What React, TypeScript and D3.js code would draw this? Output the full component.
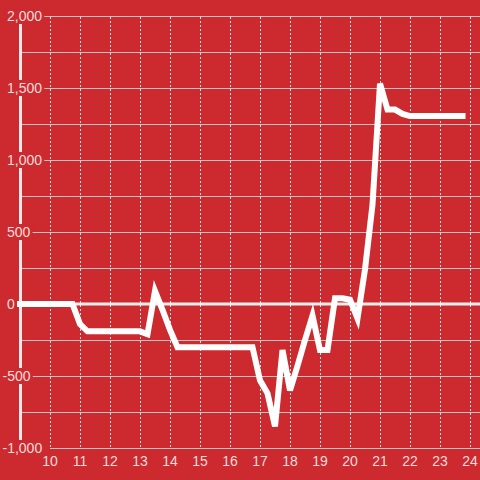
import React, { useEffect, useRef } from "react";
import * as d3 from "d3";

const hours = [
  9, 9.25, 9.5, 9.75, 10, 10.25, 10.5, 10.75, 11, 11.25, 11.5, 11.75, 12, 12.25, 12.5, 12.75,
  13, 13.25, 13.5, 13.75, 14, 14.25, 14.5, 14.75, 15, 15.25, 15.5, 15.75, 16, 16.25, 16.5, 16.75,
  17, 17.25, 17.5, 17.75, 18, 18.25, 18.5, 18.75, 19, 19.25, 19.5, 19.75, 20, 20.25, 20.5, 20.75,
  21, 21.25, 21.5, 21.75, 22, 22.25, 22.5, 22.75, 23, 23.25, 23.5, 23.75,
];
const values = [
  0, 0, 0, 0, 0, 0, 0, 0, -140, -190, -190, -190, -190, -190, -190, -190,
  -190, -210, 90, -40, -180, -300, -300, -300, -300, -300, -300, -300, -300, -300, -300, -300,
  -530, -620, -850, -320, -600, -430, -250, -80, -320, -320, 40, 40, 30, -100, 240, 690,
  1530, 1350, 1350, 1320, 1305, 1305, 1305, 1305, 1305, 1305, 1305, 1305,
];
const xTicks = [10, 11, 12, 13, 14, 15, 16, 17, 18, 19, 20, 21, 22, 23, 24];
const yGrid = [-1000, -750, -500, -250, 0, 250, 500, 750, 1000, 1250, 1500, 1750, 2000];
const yLabels = [-1000, -500, 0, 500, 1000, 1500, 2000];

const W = 480;
const H = 480;
const BG = "#cc2a2f";
const TEXT = "#f3dcdc";
const GRID = "#c9c3c3";

export default function App() {
  const ref = useRef<SVGSVGElement>(null);
  useEffect(() => {
    const svg = d3.select(ref.current);
    svg.selectAll("*").remove();
    const x = d3.scaleLinear().domain([10, 24]).range([50, 470]);
    const y = d3.scaleLinear().domain([-1000, 2000]).range([448, 16]);
    const font = "'Liberation Sans', Arial, sans-serif";

    svg.append("rect").attr("width", W).attr("height", H).attr("fill", BG);

    // horizontal grid
    svg.append("g").selectAll("line").data(yGrid).join("line")
      .attr("x1", (d) => (d === -1000 ? 50 : 20))
      .attr("x2", W)
      .attr("y1", (d) => Math.round(y(d)) + 0.5)
      .attr("y2", (d) => Math.round(y(d)) + 0.5)
      .attr("stroke", GRID)
      .attr("stroke-width", 1);

    // vertical dashed grid
    svg.append("g").selectAll("line").data(xTicks).join("line")
      .attr("x1", (d) => x(d) + 0.5)
      .attr("x2", (d) => x(d) + 0.5)
      .attr("y1", 17)
      .attr("y2", 447)
      .attr("stroke", "#e4dede")
      .attr("stroke-width", 1)
      .attr("stroke-dasharray", "2,2");

    // zero line
    svg.append("line")
      .attr("x1", 20).attr("x2", W)
      .attr("y1", y(0)).attr("y2", y(0))
      .attr("stroke", "#f0eeee").attr("stroke-width", 3);

    // y axis line
    svg.append("line")
      .attr("x1", 20.5).attr("x2", 20.5)
      .attr("y1", 16).attr("y2", 448)
      .attr("stroke", "#eeeaea").attr("stroke-width", 3);

    // x labels
    svg.append("g").selectAll("text").data(xTicks).join("text")
      .attr("x", (d) => x(d))
      .attr("y", 466)
      .attr("text-anchor", "middle")
      .attr("font-family", font)
      .attr("font-size", 14)
      .attr("fill", TEXT)
      .text((d) => String(d));

    // y labels with background
    const fmt = d3.format(",");
    const lg = svg.append("g");
    yLabels.forEach((v) => {
      const g = lg.append("g");
      const t = g.append("text")
        .attr("x", v < 0 ? 2.5 : 7)
        .attr("y", y(v) + 5)
        .attr("font-family", font)
        .attr("font-size", 14)
        .attr("fill", TEXT)
        .text(fmt(v).replace("−", "-"));
      const node = t.node() as SVGTextElement;
      const bb = node.getBBox();
      g.insert("rect", "text")
        .attr("x", bb.x - 2)
        .attr("y", y(v) - 8)
        .attr("width", bb.width + 4)
        .attr("height", 16)
        .attr("fill", BG);
    });

    // data line
    const line = d3.line<number>()
      .x((_, i) => x(hours[i]))
      .y((d) => y(d));
    svg.append("path")
      .datum(values)
      .attr("d", line)
      .attr("fill", "none")
      .attr("stroke", "#ffffff")
      .attr("stroke-width", 6)
      .attr("stroke-linejoin", "miter")
      .attr("stroke-linecap", "square");
  }, []);
  return (
    <svg
      ref={ref}
      width={W}
      height={H}
      style={{ position: "absolute", left: 0, top: 0, display: "block" }}
    />
  );
}
